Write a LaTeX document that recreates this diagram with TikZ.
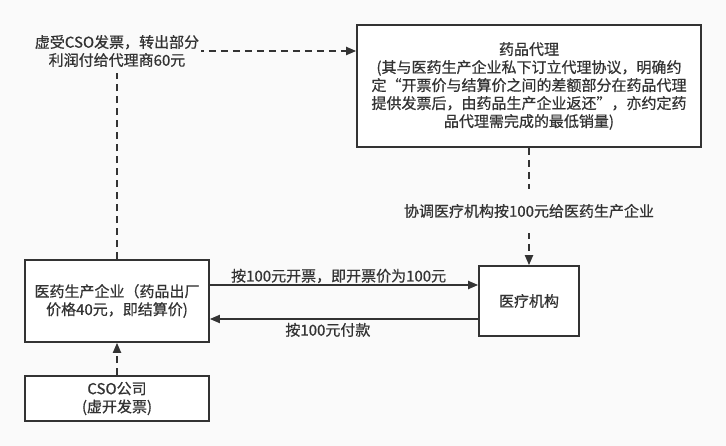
\documentclass[tikz,border=0pt]{standalone}
\usepackage{fontspec}
\setmainfont{Noto Sans CJK SC}[FakeBold=0.6]
\usetikzlibrary{arrows.meta}
\definecolor{bg}{HTML}{FAFAFA}
\definecolor{ink}{HTML}{333333}
\begin{document}
\begin{tikzpicture}[x=1pt,y=-1pt,
  font=\fontsize{15}{18}\selectfont,
  box/.style={draw=ink, line width=1.6pt, fill=white, text=ink, align=center, inner sep=0pt},
  conn/.style={draw=ink, line width=1.8pt, -{Triangle[length=10pt,width=8pt]}},
  dsh/.style={dash pattern=on 7pt off 5pt},
  lbl/.style={text=ink, fill=bg, inner sep=2pt, align=center},
  elbl/.style={text=ink, inner sep=1pt}]
\fill[bg] (0,0) rectangle (726,446);
\useasboundingbox (0,0) rectangle (726,446);

\node[box, minimum width=344pt, minimum height=122pt] (agent) at (529,86)
  {药品代理\\(其与医药生产企业私下订立代理协议，明确约\\定“开票价与结算价之间的差额部分在药品代理\\提供发票后，由药品生产企业返还”，亦约定药\\品代理需完成的最低销量)};
\node[box, minimum width=100pt, minimum height=70pt] (hosp) at (529,301) {医疗机构};
\node[box, minimum width=184pt, minimum height=82pt] (mfg) at (117,301)
  {医药生产企业（药品出厂\\价格40元，即结算价)};
\node[box, minimum width=184pt, minimum height=45pt] (cso) at (117,398.5)
  {CSO公司\\(虚开发票)};

\coordinate (c1) at (117,51);
\draw[conn,dsh] (mfg.north) -- (c1) -- (agent.west |- c1);
\node[lbl, inner ysep=6pt] (l1) at (c1) {虚受CSO发票，转出部分\\利润付给代理商60元};

\draw[conn,dsh] (agent.south) -- (hosp.north);
\node[lbl, minimum height=44pt] (l2) at (529,211) {协调医疗机构按100元给医药生产企业};

\draw[conn] ([yshift=16pt]mfg.east) -- ([yshift=16pt]hosp.west)
  node[elbl, above, pos=0.48] (l3) {按100元开票，即开票价为100元};
\draw[conn] ([yshift=-18pt]hosp.west) -- ([yshift=-18pt]mfg.east)
  node[elbl, below, pos=0.56, inner sep=3pt] (l4) {按100元付款};

\draw[conn,dsh] (cso.north) -- (mfg.south);
\end{tikzpicture}
\end{document}
